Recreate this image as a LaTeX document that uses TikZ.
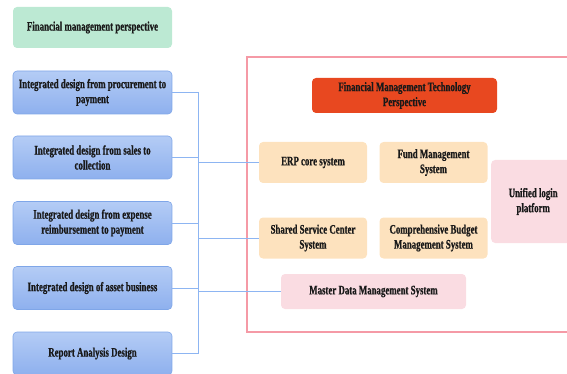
\documentclass[tikz,border=0pt]{standalone}
\usepackage{fontspec}
\setmainfont{Liberation Serif Bold}[FakeStretch=0.68, FakeBold=0.8]
\definecolor{greenf}{HTML}{BCE9D3}
\definecolor{bluetop}{HTML}{B4CCF5}
\definecolor{bluebot}{HTML}{8EB0EE}
\definecolor{blueln}{HTML}{7FA6E8}
\definecolor{conn}{HTML}{8DB5F2}
\definecolor{redf}{HTML}{E84820}
\definecolor{orangef}{HTML}{FDE2BE}
\definecolor{pinkf}{HTML}{FADCE2}
\definecolor{framec}{HTML}{F59AA6}
\tikzset{
  base/.style={rounded corners=4pt, align=center, inner sep=0pt,
    font=\fontsize{13}{15}\selectfont, text=black!90},
  greenbox/.style={base, fill=greenf, minimum width=159pt, minimum height=41pt},
  bluebox/.style={base, top color=bluetop, bottom color=bluebot, draw=blueln, line width=0.6pt, minimum width=159pt, minimum height=43pt},
  redbox/.style={base, fill=redf, minimum width=185pt, minimum height=35pt},
  orangebox/.style={base, fill=orangef, minimum width=108pt, minimum height=41pt},
  pinkbox/.style={base, fill=pinkf},
  connline/.style={draw=conn, line width=0.9pt},
}
\begin{document}
\begin{tikzpicture}[x=1pt,y=-1pt]
\useasboundingbox (0,0) rectangle (567,374);
\clip (0,0) rectangle (567,374);
% left column
\node[greenbox] (fmp) at (92.5,27.5) {Financial management perspective};
\node[bluebox] (b1) at (92.5,92.5) {Integrated design from procurement to\\payment};
\node[bluebox] (b2) at (92.5,157.5) {Integrated design from sales to\\collection};
\node[bluebox] (b3) at (92.5,223) {Integrated design from expense\\reimbursement to payment};
\node[bluebox] (b4) at (92.5,288) {Integrated design of asset business};
\node[bluebox] (b5) at (92.5,353.5) {Report Analysis Design};
% frame
\draw[framec, line width=1.1pt] (247,57) rectangle (600,332);
% right side
\node[redbox] (fmt) at (404.5,95.5) {Financial Management Technology\\Perspective};
\node[orangebox] (erp) at (313,162.5) {ERP core system};
\node[orangebox] (fund) at (433.5,162.5) {Fund Management\\System};
\node[orangebox] (ssc) at (313,238) {Shared Service Center\\System};
\node[orangebox] (cbm) at (433.5,238) {Comprehensive Budget\\Management System};
\node[pinkbox, minimum width=185pt, minimum height=35pt] (mdm) at (373.5,291.5) {Master Data Management System};
\node[pinkbox, minimum width=84pt, minimum height=83pt, anchor=west] (ulp) at (491,201.5) {Unified login\\platform};
% connectors
\coordinate (bus) at (198,0);
\draw[connline] (b1.east) -- (b1.east -| bus) -- (b5.east -| bus) -- (b5.east);
\draw[connline] (b2.east) -- (b2.east -| bus);
\draw[connline] (b3.east) -- (b3.east -| bus);
\draw[connline] (b4.east) -- (b4.east -| bus);
\draw[connline] (erp.west -| bus) -- (erp.west);
\draw[connline] (ssc.west -| bus) -- (ssc.west);
\draw[connline] (mdm.west -| bus) -- (mdm.west);
\end{tikzpicture}
\end{document}
